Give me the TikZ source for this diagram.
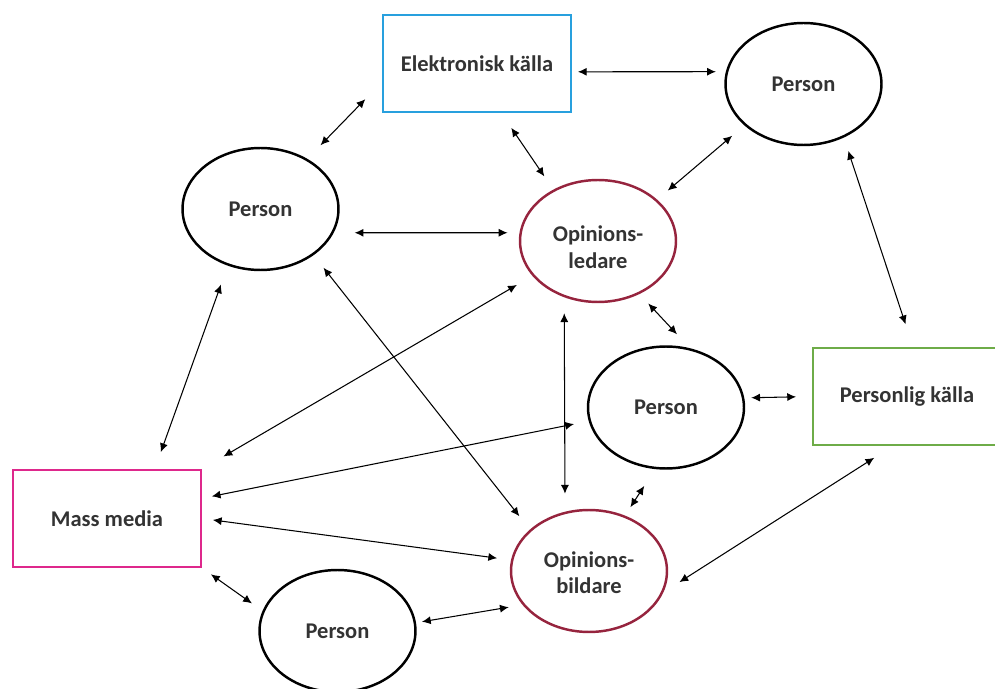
\documentclass[tikz,border=0pt]{standalone}
\usepackage{fontspec}
\setmainfont{Carlito}
\usetikzlibrary{shapes.geometric,arrows.meta}

\definecolor{elkblue}{RGB}{40,160,222}
\definecolor{massmagenta}{RGB}{222,40,140}
\definecolor{persgreen}{RGB}{110,172,72}
\definecolor{opinred}{RGB}{150,36,62}

\tikzset{
	person/.style={ellipse, draw=black, line width=1.4pt, minimum width=3.12cm, minimum height=2.44cm, inner sep=0pt, align=center, text=black!80, font=\bfseries\fontsize{12.8}{15.2}\selectfont},
	opinion/.style={person, draw=opinred},
	source/.style={rectangle, draw=#1, line width=1.1pt, minimum width=3.76cm, minimum height=1.94cm, text=black!80, font=\bfseries\fontsize{12.8}{15.2}\selectfont},
	link/.style={{Latex[length=5pt,width=4.6pt]}-{Latex[length=5pt,width=4.6pt]}, line width=0.6pt}
}

\begin{document}
\begin{tikzpicture}[x=0.02cm, y=-0.02cm]
		\useasboundingbox (0, 0) rectangle (995, 689);
		% the sources
		\node[source=elkblue] (elk) at (477, 63.5) {Elektronisk källa};
		\node[source=persgreen] (pk) at (907, 396.5) {Personlig källa};
		\node[source=massmagenta] (mm) at (107, 518.5) {Mass media};
		% the persons
		\node[person] (ptr) at (803.5, 84) {Person};
		\node[person] (pl) at (260.5, 209) {Person};
		\node[person] (pm) at (666, 407.5) {Person};
		\node[person] (pb) at (337.5, 631) {Person};
		% opinion leader and opinion maker
		\node[opinion] (ol) at (598, 241) {\raisebox{-0.28cm}[0pt][0pt]{\begin{tabular}{@{}c@{}}Opinions-\\ledare\end{tabular}}};
		\node[opinion] (ob) at (589, 571) {\raisebox{-0.19cm}[0pt][0pt]{\begin{tabular}{@{}c@{}}Opinions-\\bildare\end{tabular}}};
		% links from the electronic source
		\draw[link, shorten <=0.12cm, shorten >=0.2cm] (elk.-5) -- (ptr.171);
		\draw[link, shorten <=0.48cm, shorten >=0.38cm] (elk.191.7) -- (pl.47);
		\draw[link, shorten <=0.36cm, shorten >=0.32cm] (elk.-64) -- (ol.131);
		% links from the person top right
		\draw[link, shorten <=0.32cm, shorten >=0.28cm] (ptr.215) -- (ol.35);
		\draw[link, shorten <=0.28cm, shorten >=0.48cm] (ptr.-53.5) -- (pk.83.4);
		% links from the person on the left
		\draw[link, shorten <=0.42cm, shorten >=0.24cm] (pl.-18.5) -- (ol.174);
		\draw[link, shorten <=0.4cm, shorten >=0.36cm] (pl.240.6) -- (mm.46);
		\draw[link, shorten <=0.32cm, shorten >=0.34cm] (pl.-41.4) -- (ob.145.2);
		% links from the opinion leader
		\draw[link, shorten <=0.36cm, shorten >=0.5cm] (ol.208.4) -- (mm.north east);
		\draw[link, shorten <=0.26cm, shorten >=0.38cm] (ol.-52.4) -- (pm.68.6);
		\draw[link, shorten <=0.32cm, shorten >=0.36cm] (ol.239.2) -- (ob.112.5);
		% links from the person in the middle
		\draw[link, shorten <=0.14cm, shorten >=0.32cm] (pm.7.8) -- (pk.west);
		\draw[link, shorten <=0.3cm, shorten >=0.2cm] (pm.190.1) -- (mm.12.3);
		\draw[link, shorten <=0.4cm, shorten >=0.2cm] (pm.260.7) -- (ob.57);
		% links round the mass media and the opinion maker
		\draw[link, shorten <=0.22cm, shorten >=0.28cm] (mm.east) -- (ob.172.5);
		\draw[link, shorten <=0.22cm, shorten >=0.26cm] (mm.south east) -- (pb.165);
		\draw[link, shorten <=0.12cm, shorten >=0.28cm] (pb.6.6) -- (ob.207.5);
		\draw[link, shorten <=0.38cm, shorten >=0.44cm] (ob.-16) -- (pk.254.9);
	\end{tikzpicture}
\end{document}
